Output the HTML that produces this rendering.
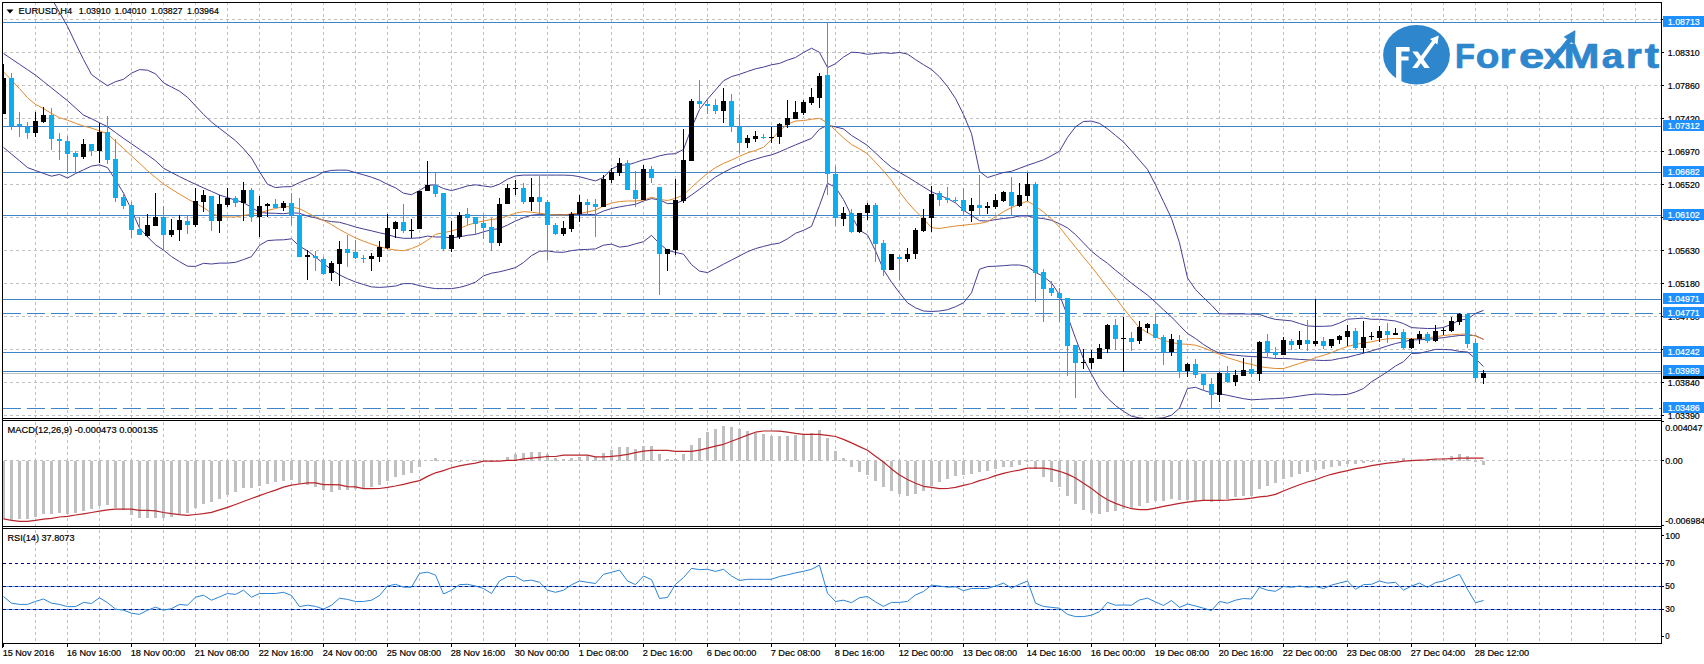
<!DOCTYPE html><html><head><meta charset="utf-8"><title>EURUSD H4</title>
<style>html,body{margin:0;padding:0;background:#fff;overflow:hidden}svg{display:block}text{font-family:"Liberation Sans",sans-serif;font-size:9.2px;fill:#000;stroke:#000;stroke-width:0.2px}</style></head><body>
<svg width="1704" height="664" viewBox="0 0 1704 664">
<rect width="1704" height="664" fill="#fff"/>
<g stroke="#c0c0c0" stroke-width="1" stroke-dasharray="3 3" shape-rendering="crispEdges" fill="none">
<path d="M35.5 2V418M35.5 422V526M35.5 530V643"/>
<path d="M67.5 2V418M67.5 422V526M67.5 530V643"/>
<path d="M99.5 2V418M99.5 422V526M99.5 530V643"/>
<path d="M131.5 2V418M131.5 422V526M131.5 530V643"/>
<path d="M163.5 2V418M163.5 422V526M163.5 530V643"/>
<path d="M195.5 2V418M195.5 422V526M195.5 530V643"/>
<path d="M227.5 2V418M227.5 422V526M227.5 530V643"/>
<path d="M259.5 2V418M259.5 422V526M259.5 530V643"/>
<path d="M291.5 2V418M291.5 422V526M291.5 530V643"/>
<path d="M323.5 2V418M323.5 422V526M323.5 530V643"/>
<path d="M355.5 2V418M355.5 422V526M355.5 530V643"/>
<path d="M387.5 2V418M387.5 422V526M387.5 530V643"/>
<path d="M419.5 2V418M419.5 422V526M419.5 530V643"/>
<path d="M451.5 2V418M451.5 422V526M451.5 530V643"/>
<path d="M483.5 2V418M483.5 422V526M483.5 530V643"/>
<path d="M515.5 2V418M515.5 422V526M515.5 530V643"/>
<path d="M547.5 2V418M547.5 422V526M547.5 530V643"/>
<path d="M579.5 2V418M579.5 422V526M579.5 530V643"/>
<path d="M611.5 2V418M611.5 422V526M611.5 530V643"/>
<path d="M643.5 2V418M643.5 422V526M643.5 530V643"/>
<path d="M675.5 2V418M675.5 422V526M675.5 530V643"/>
<path d="M707.5 2V418M707.5 422V526M707.5 530V643"/>
<path d="M739.5 2V418M739.5 422V526M739.5 530V643"/>
<path d="M771.5 2V418M771.5 422V526M771.5 530V643"/>
<path d="M803.5 2V418M803.5 422V526M803.5 530V643"/>
<path d="M835.5 2V418M835.5 422V526M835.5 530V643"/>
<path d="M867.5 2V418M867.5 422V526M867.5 530V643"/>
<path d="M899.5 2V418M899.5 422V526M899.5 530V643"/>
<path d="M931.5 2V418M931.5 422V526M931.5 530V643"/>
<path d="M963.5 2V418M963.5 422V526M963.5 530V643"/>
<path d="M995.5 2V418M995.5 422V526M995.5 530V643"/>
<path d="M1027.5 2V418M1027.5 422V526M1027.5 530V643"/>
<path d="M1059.5 2V418M1059.5 422V526M1059.5 530V643"/>
<path d="M1091.5 2V418M1091.5 422V526M1091.5 530V643"/>
<path d="M1123.5 2V418M1123.5 422V526M1123.5 530V643"/>
<path d="M1155.5 2V418M1155.5 422V526M1155.5 530V643"/>
<path d="M1187.5 2V418M1187.5 422V526M1187.5 530V643"/>
<path d="M1219.5 2V418M1219.5 422V526M1219.5 530V643"/>
<path d="M1251.5 2V418M1251.5 422V526M1251.5 530V643"/>
<path d="M1283.5 2V418M1283.5 422V526M1283.5 530V643"/>
<path d="M1315.5 2V418M1315.5 422V526M1315.5 530V643"/>
<path d="M1347.5 2V418M1347.5 422V526M1347.5 530V643"/>
<path d="M1379.5 2V418M1379.5 422V526M1379.5 530V643"/>
<path d="M1411.5 2V418M1411.5 422V526M1411.5 530V643"/>
<path d="M1443.5 2V418M1443.5 422V526M1443.5 530V643"/>
<path d="M1475.5 2V418M1475.5 422V526M1475.5 530V643"/>
<path d="M1507.5 2V418M1507.5 422V526M1507.5 530V643"/>
<path d="M1539.5 2V418M1539.5 422V526M1539.5 530V643"/>
<path d="M1571.5 2V418M1571.5 422V526M1571.5 530V643"/>
<path d="M1603.5 2V418M1603.5 422V526M1603.5 530V643"/>
<path d="M1635.5 2V418M1635.5 422V526M1635.5 530V643"/>
<path d="M4 19.5H1661"/>
<path d="M4 52.5H1661"/>
<path d="M4 85.5H1661"/>
<path d="M4 118.5H1661"/>
<path d="M4 151.5H1661"/>
<path d="M4 184.5H1661"/>
<path d="M4 217.5H1661"/>
<path d="M4 250.5H1661"/>
<path d="M4 283.5H1661"/>
<path d="M4 316.5H1661"/>
<path d="M4 349.5H1661"/>
<path d="M4 382.5H1661"/>
<path d="M4 415.5H1661"/>
<path d="M4 460.5H1661"/>
</g>
<rect x="1380" y="23" width="281" height="62" fill="#fff"/>
<g stroke="#3d85c8" stroke-width="1" fill="none" shape-rendering="crispEdges">
<path d="M3 22.5H1661"/>
<path d="M3 126.5H1661"/>
<path d="M3 172.5H1661"/>
<path d="M3 215.5H1661"/>
<path d="M3 299.5H1661"/>
<path d="M3 313.5H1661" stroke-dasharray="18 6" stroke-dashoffset="0"/>
<path d="M3 352.5H1661"/>
<path d="M3 371.5H1661"/>
<path d="M3 408.5H1661" stroke-dasharray="18 6" stroke-dashoffset="0"/>
</g>
<path d="M3 373.5H1661" stroke="#c0c0c0" stroke-width="1" shape-rendering="crispEdges"/>
<clipPath id="cm"><rect x="3" y="3" width="1658" height="415"/></clipPath>
<g clip-path="url(#cm)">
<path d="M51.5 -2.0L59.5 12.3L67.5 26.4L75.5 43.2L83.5 59.5L91.5 74.5L99.5 80.4L107.5 85.7L115.5 81.7L123.5 79.3L131.5 73.1L139.5 69.6L147.5 70.2L155.5 73.8L163.5 82.8L171.5 87.0L179.5 91.2L187.5 97.3L195.5 105.9L203.5 114.4L211.5 122.0L219.5 128.3L227.5 134.4L235.5 140.7L243.5 148.7L251.5 158.0L259.5 171.7L267.5 184.3L275.5 187.6L283.5 186.8L291.5 186.6L299.5 182.5L307.5 179.2L315.5 176.6L323.5 172.0L331.5 170.4L339.5 170.1L347.5 170.2L355.5 172.6L363.5 174.8L371.5 177.2L379.5 180.2L387.5 184.4L395.5 187.8L403.5 193.2L411.5 194.7L419.5 190.5L427.5 185.4L435.5 184.8L443.5 188.5L451.5 190.6L459.5 188.4L467.5 185.9L475.5 184.8L483.5 186.0L491.5 187.0L499.5 184.1L507.5 179.2L515.5 175.9L523.5 175.1L531.5 175.1L539.5 175.1L547.5 175.1L555.5 175.1L563.5 175.1L571.5 175.4L579.5 176.7L587.5 178.9L595.5 180.9L603.5 177.4L611.5 169.1L619.5 165.1L627.5 165.0L635.5 162.5L643.5 159.7L651.5 158.3L659.5 155.8L667.5 154.2L675.5 153.7L683.5 149.4L691.5 128.0L699.5 109.5L707.5 99.2L715.5 90.0L723.5 80.8L731.5 76.6L739.5 74.3L747.5 71.5L755.5 68.8L763.5 67.1L771.5 64.8L779.5 63.4L787.5 60.1L795.5 57.5L803.5 52.5L811.5 48.2L819.5 52.4L827.5 67.6L835.5 63.7L843.5 57.1L851.5 52.2L859.5 52.7L867.5 54.3L875.5 53.5L883.5 52.7L891.5 53.4L899.5 52.4L907.5 54.1L915.5 59.6L923.5 64.7L931.5 69.5L939.5 76.8L947.5 86.5L955.5 98.5L963.5 114.5L971.5 133.6L979.5 171.4L987.5 177.5L995.5 175.0L1003.5 172.5L1011.5 171.3L1019.5 168.3L1027.5 165.3L1035.5 162.6L1043.5 159.8L1051.5 155.7L1059.5 151.2L1067.5 137.4L1075.5 126.8L1083.5 121.5L1091.5 121.1L1099.5 123.4L1107.5 128.8L1115.5 135.4L1123.5 142.0L1131.5 150.9L1139.5 160.2L1147.5 169.4L1155.5 184.8L1163.5 201.6L1171.5 218.4L1179.5 242.8L1187.5 277.9L1195.5 289.6L1203.5 297.6L1211.5 305.2L1219.5 313.7L1227.5 313.9L1235.5 313.9L1243.5 313.9L1251.5 314.1L1259.5 314.4L1267.5 317.3L1275.5 319.4L1283.5 320.1L1291.5 320.9L1299.5 323.5L1307.5 325.9L1315.5 326.4L1323.5 326.3L1331.5 325.9L1339.5 323.0L1347.5 319.2L1355.5 318.7L1363.5 318.1L1371.5 319.3L1379.5 319.3L1387.5 320.1L1395.5 321.0L1403.5 323.6L1411.5 327.6L1419.5 328.1L1427.5 328.5L1435.5 328.4L1443.5 327.5L1451.5 324.2L1459.5 320.1L1467.5 319.1L1475.5 313.4L1483.5 310.4" stroke="#433e92" stroke-width="1" fill="none" stroke-linejoin="round" />
<path d="M3.5 53.5L11.5 58.9L19.5 64.3L27.5 69.7L35.5 75.1L43.5 81.5L51.5 87.9L59.5 94.3L67.5 100.7L75.5 107.9L83.5 115.1L91.5 118.7L99.5 122.8L107.5 126.7L115.5 132.5L123.5 138.3L131.5 143.8L139.5 149.3L147.5 154.9L155.5 160.7L163.5 168.2L171.5 172.5L179.5 176.6L187.5 180.5L195.5 184.3L203.5 187.9L211.5 191.4L219.5 195.0L227.5 197.6L235.5 200.1L243.5 202.6L251.5 207.4L259.5 212.4L267.5 213.1L275.5 213.3L283.5 213.7L291.5 212.7L299.5 213.3L307.5 216.1L315.5 217.8L323.5 220.3L331.5 221.6L339.5 222.3L347.5 224.5L355.5 227.0L363.5 229.0L371.5 230.8L379.5 232.8L387.5 234.5L395.5 237.0L403.5 238.3L411.5 238.3L419.5 237.8L427.5 236.1L435.5 237.0L443.5 237.0L451.5 237.8L459.5 236.9L467.5 235.3L475.5 234.4L483.5 231.8L491.5 229.7L499.5 228.5L507.5 225.1L515.5 221.0L523.5 217.7L531.5 215.2L539.5 214.4L547.5 214.4L555.5 214.6L563.5 214.7L571.5 214.6L579.5 214.4L587.5 214.4L595.5 214.7L603.5 211.0L611.5 208.5L619.5 206.9L627.5 205.5L635.5 204.3L643.5 201.0L651.5 198.6L659.5 199.9L667.5 203.6L675.5 203.4L683.5 200.4L691.5 195.0L699.5 189.2L707.5 183.0L715.5 177.0L723.5 172.5L731.5 168.3L739.5 165.0L747.5 161.7L755.5 159.2L763.5 156.7L771.5 154.9L779.5 151.9L787.5 148.3L795.5 144.9L803.5 141.6L811.5 138.4L819.5 129.2L827.5 125.2L835.5 126.9L843.5 128.9L851.5 135.4L859.5 140.4L867.5 145.5L875.5 153.0L883.5 160.5L891.5 167.3L899.5 172.4L907.5 176.9L915.5 181.9L923.5 186.9L931.5 191.8L939.5 195.2L947.5 198.6L955.5 202.9L963.5 210.3L971.5 215.3L979.5 220.7L987.5 221.0L995.5 219.6L1003.5 218.5L1011.5 217.6L1019.5 216.0L1027.5 216.0L1035.5 217.7L1043.5 218.6L1051.5 220.3L1059.5 223.7L1067.5 227.9L1075.5 234.6L1083.5 242.9L1091.5 251.2L1099.5 257.6L1107.5 263.3L1115.5 270.2L1123.5 276.6L1131.5 283.2L1139.5 289.2L1147.5 295.1L1155.5 302.2L1163.5 309.8L1171.5 316.9L1179.5 325.3L1187.5 333.5L1195.5 338.5L1203.5 344.5L1211.5 349.4L1219.5 353.2L1227.5 354.3L1235.5 355.2L1243.5 356.0L1251.5 356.5L1259.5 356.9L1267.5 357.7L1275.5 358.5L1283.5 358.5L1291.5 358.8L1299.5 359.4L1307.5 359.8L1315.5 360.2L1323.5 360.5L1331.5 360.2L1339.5 358.5L1347.5 357.3L1355.5 355.2L1363.5 353.2L1371.5 350.9L1379.5 348.5L1387.5 345.9L1395.5 343.5L1403.5 341.8L1411.5 339.8L1419.5 339.8L1427.5 339.3L1435.5 338.5L1443.5 337.6L1451.5 336.5L1459.5 335.5L1467.5 335.2L1475.5 335.6L1483.5 339.3" stroke="#433e92" stroke-width="1" fill="none" stroke-linejoin="round" />
<path d="M3.5 147.4L11.5 154.1L19.5 160.7L27.5 167.6L35.5 170.5L43.5 173.4L51.5 176.2L59.5 174.4L67.5 178.0L75.5 173.6L83.5 169.8L91.5 166.1L99.5 164.8L107.5 167.6L115.5 179.9L123.5 193.2L131.5 209.7L139.5 228.0L147.5 236.8L155.5 244.8L163.5 250.0L171.5 256.6L179.5 261.6L187.5 266.2L195.5 266.4L203.5 263.3L211.5 264.0L219.5 263.1L227.5 263.1L235.5 262.3L243.5 259.6L251.5 256.6L259.5 245.4L267.5 240.6L275.5 240.0L283.5 239.8L291.5 238.8L299.5 246.2L307.5 250.8L315.5 257.1L323.5 263.6L331.5 269.6L339.5 274.9L347.5 278.7L355.5 282.0L363.5 284.5L371.5 286.9L379.5 287.4L387.5 286.9L395.5 286.0L403.5 283.6L411.5 283.6L419.5 285.6L427.5 287.4L435.5 288.6L443.5 288.6L451.5 288.6L459.5 287.4L467.5 285.2L475.5 282.1L483.5 275.9L491.5 273.2L499.5 271.8L507.5 269.8L515.5 267.6L523.5 262.5L531.5 255.6L539.5 251.3L547.5 250.9L555.5 252.1L563.5 252.3L571.5 250.6L579.5 249.7L587.5 249.4L595.5 248.9L603.5 245.2L611.5 244.1L619.5 247.1L627.5 246.2L635.5 243.8L643.5 241.7L651.5 235.4L659.5 243.5L667.5 250.3L675.5 252.4L683.5 254.2L691.5 264.6L699.5 271.1L707.5 272.6L715.5 268.5L723.5 264.2L731.5 260.1L739.5 255.9L747.5 251.7L755.5 248.6L763.5 246.4L771.5 244.4L779.5 243.1L787.5 238.8L795.5 233.3L803.5 230.3L811.5 226.4L819.5 205.5L827.5 183.3L835.5 187.2L843.5 199.6L851.5 215.7L859.5 230.3L867.5 234.9L875.5 250.8L883.5 269.7L891.5 282.2L899.5 292.8L907.5 302.8L915.5 307.8L923.5 311.0L931.5 311.5L939.5 311.0L947.5 309.7L955.5 306.7L963.5 302.8L971.5 292.8L979.5 269.2L987.5 266.6L995.5 266.2L1003.5 265.7L1011.5 265.0L1019.5 265.0L1027.5 266.6L1035.5 272.4L1043.5 276.5L1051.5 282.9L1059.5 294.8L1067.5 315.9L1075.5 338.2L1083.5 358.9L1091.5 374.1L1099.5 388.8L1107.5 398.1L1115.5 405.5L1123.5 411.3L1131.5 416.2L1139.5 417.9L1147.5 418.7L1155.5 418.4L1163.5 417.8L1171.5 415.2L1179.5 408.1L1187.5 388.5L1195.5 387.3L1203.5 390.4L1211.5 392.8L1219.5 393.7L1227.5 395.3L1235.5 397.0L1243.5 398.7L1251.5 399.8L1259.5 399.4L1267.5 398.9L1275.5 398.6L1283.5 398.1L1291.5 397.3L1299.5 396.1L1307.5 394.9L1315.5 394.1L1323.5 394.2L1331.5 394.8L1339.5 394.7L1347.5 394.4L1355.5 391.9L1363.5 388.5L1371.5 381.8L1379.5 376.9L1387.5 371.7L1395.5 366.0L1403.5 361.7L1411.5 353.5L1419.5 353.2L1427.5 351.4L1435.5 349.4L1443.5 349.4L1451.5 349.9L1459.5 351.4L1467.5 352.0L1475.5 358.7L1483.5 366.6" stroke="#433e92" stroke-width="1" fill="none" stroke-linejoin="round" />
<path d="M3.5 71.9L11.5 80.2L19.5 88.6L27.5 97.7L35.5 104.4L43.5 108.5L51.5 113.5L59.5 117.7L67.5 120.2L75.5 123.3L83.5 126.0L91.5 128.1L99.5 130.9L107.5 133.8L115.5 141.2L123.5 148.5L131.5 155.8L139.5 163.2L147.5 170.7L155.5 177.4L163.5 184.1L171.5 189.1L179.5 194.1L187.5 198.8L195.5 203.3L203.5 207.5L211.5 213.2L219.5 216.8L227.5 217.0L235.5 217.0L243.5 215.4L251.5 214.2L259.5 212.9L267.5 210.5L275.5 208.5L283.5 206.4L291.5 206.9L299.5 208.7L307.5 212.8L315.5 217.0L323.5 220.3L331.5 224.6L339.5 229.5L347.5 233.8L355.5 237.9L363.5 241.2L371.5 244.1L379.5 246.7L387.5 248.7L395.5 250.0L403.5 250.8L411.5 248.6L419.5 245.2L427.5 240.2L435.5 234.4L443.5 232.7L451.5 231.0L459.5 228.5L467.5 225.2L475.5 222.7L483.5 221.0L491.5 219.4L499.5 218.5L507.5 216.0L515.5 213.2L523.5 211.6L531.5 212.2L539.5 213.2L547.5 214.4L555.5 214.8L563.5 215.1L571.5 213.6L579.5 213.5L587.5 211.9L595.5 210.1L603.5 206.0L611.5 203.1L619.5 201.5L627.5 201.0L635.5 201.0L643.5 200.1L651.5 197.2L659.5 199.4L667.5 200.5L675.5 198.4L683.5 194.9L691.5 187.4L699.5 180.1L707.5 173.4L715.5 167.6L723.5 163.4L731.5 160.1L739.5 156.3L747.5 152.8L755.5 150.4L763.5 147.3L771.5 139.5L779.5 130.8L787.5 124.2L795.5 121.0L803.5 120.5L811.5 119.3L819.5 118.3L827.5 122.9L835.5 130.4L843.5 137.9L851.5 144.6L859.5 148.8L867.5 153.9L875.5 162.3L883.5 171.0L891.5 180.5L899.5 191.9L907.5 202.1L915.5 211.2L923.5 218.8L931.5 227.7L939.5 228.5L947.5 227.2L955.5 226.0L963.5 225.2L971.5 224.3L979.5 223.5L987.5 221.7L995.5 216.7L1003.5 211.7L1011.5 207.5L1019.5 204.2L1027.5 201.1L1035.5 206.1L1043.5 212.1L1051.5 218.8L1059.5 227.2L1067.5 237.2L1075.5 247.2L1083.5 257.2L1091.5 266.6L1099.5 277.0L1107.5 287.4L1115.5 297.7L1123.5 308.3L1131.5 318.3L1139.5 327.7L1147.5 332.7L1155.5 336.9L1163.5 340.2L1171.5 342.6L1179.5 343.9L1187.5 344.3L1195.5 345.2L1203.5 347.8L1211.5 351.1L1219.5 354.4L1227.5 357.7L1235.5 360.2L1243.5 362.7L1251.5 364.4L1259.5 366.6L1267.5 367.7L1275.5 368.5L1283.5 368.5L1291.5 366.0L1299.5 363.4L1307.5 360.9L1315.5 357.6L1323.5 355.3L1331.5 352.6L1339.5 349.3L1347.5 346.5L1355.5 344.3L1363.5 343.1L1371.5 341.8L1379.5 340.1L1387.5 338.8L1395.5 338.5L1403.5 338.5L1411.5 338.8L1419.5 338.5L1427.5 337.6L1435.5 336.8L1443.5 335.5L1451.5 334.8L1459.5 334.3L1467.5 333.9L1475.5 336.1L1483.5 339.3" stroke="#e08a30" stroke-width="1" fill="none" stroke-linejoin="round" />
<g shape-rendering="crispEdges">
<rect x="3" y="64" width="1" height="50" fill="#000"/>
<rect x="1" y="78" width="5" height="36" fill="#000"/>
<rect x="11" y="73" width="1" height="57" fill="#0caef0"/>
<rect x="9" y="78" width="5" height="48" fill="#0caef0"/>
<rect x="19" y="112" width="1" height="25" fill="#0caef0"/>
<rect x="17" y="124" width="5" height="2" fill="#0caef0"/>
<rect x="27" y="122" width="1" height="17" fill="#0caef0"/>
<rect x="25" y="127" width="5" height="6" fill="#0caef0"/>
<rect x="35" y="112" width="1" height="25" fill="#000"/>
<rect x="33" y="121" width="5" height="12" fill="#000"/>
<rect x="43" y="107" width="1" height="16" fill="#000"/>
<rect x="41" y="115" width="5" height="7" fill="#000"/>
<rect x="51" y="108" width="1" height="42" fill="#0caef0"/>
<rect x="49" y="115" width="5" height="24" fill="#0caef0"/>
<rect x="59" y="133" width="1" height="27" fill="#0caef0"/>
<rect x="57" y="139" width="5" height="2" fill="#0caef0"/>
<rect x="67" y="136" width="1" height="38" fill="#0caef0"/>
<rect x="65" y="141" width="5" height="13" fill="#0caef0"/>
<rect x="75" y="151" width="1" height="23" fill="#0caef0"/>
<rect x="73" y="153" width="5" height="4" fill="#0caef0"/>
<rect x="83" y="139" width="1" height="20" fill="#000"/>
<rect x="81" y="144" width="5" height="13" fill="#000"/>
<rect x="91" y="144" width="1" height="12" fill="#0caef0"/>
<rect x="89" y="144" width="5" height="7" fill="#0caef0"/>
<rect x="99" y="123" width="1" height="40" fill="#000"/>
<rect x="97" y="132" width="5" height="19" fill="#000"/>
<rect x="107" y="116" width="1" height="48" fill="#0caef0"/>
<rect x="105" y="132" width="5" height="28" fill="#0caef0"/>
<rect x="115" y="139" width="1" height="63" fill="#0caef0"/>
<rect x="113" y="159" width="5" height="39" fill="#0caef0"/>
<rect x="123" y="192" width="1" height="17" fill="#0caef0"/>
<rect x="121" y="197" width="5" height="9" fill="#0caef0"/>
<rect x="131" y="202" width="1" height="36" fill="#0caef0"/>
<rect x="129" y="205" width="5" height="25" fill="#0caef0"/>
<rect x="139" y="217" width="1" height="18" fill="#0caef0"/>
<rect x="137" y="229" width="5" height="6" fill="#0caef0"/>
<rect x="147" y="214" width="1" height="23" fill="#000"/>
<rect x="145" y="225" width="5" height="11" fill="#000"/>
<rect x="155" y="193" width="1" height="33" fill="#000"/>
<rect x="153" y="217" width="5" height="9" fill="#000"/>
<rect x="163" y="206" width="1" height="43" fill="#0caef0"/>
<rect x="161" y="217" width="5" height="18" fill="#0caef0"/>
<rect x="171" y="219" width="1" height="18" fill="#000"/>
<rect x="169" y="230" width="5" height="5" fill="#000"/>
<rect x="179" y="215" width="1" height="26" fill="#000"/>
<rect x="177" y="220" width="5" height="10" fill="#000"/>
<rect x="187" y="215" width="1" height="19" fill="#0caef0"/>
<rect x="185" y="221" width="5" height="4" fill="#0caef0"/>
<rect x="195" y="188" width="1" height="39" fill="#000"/>
<rect x="193" y="201" width="5" height="24" fill="#000"/>
<rect x="203" y="190" width="1" height="22" fill="#000"/>
<rect x="201" y="195" width="5" height="7" fill="#000"/>
<rect x="211" y="196" width="1" height="35" fill="#0caef0"/>
<rect x="209" y="196" width="5" height="25" fill="#0caef0"/>
<rect x="219" y="195" width="1" height="38" fill="#000"/>
<rect x="217" y="204" width="5" height="17" fill="#000"/>
<rect x="227" y="188" width="1" height="19" fill="#000"/>
<rect x="225" y="198" width="5" height="7" fill="#000"/>
<rect x="235" y="196" width="1" height="11" fill="#0caef0"/>
<rect x="233" y="198" width="5" height="5" fill="#0caef0"/>
<rect x="243" y="182" width="1" height="39" fill="#000"/>
<rect x="241" y="190" width="5" height="13" fill="#000"/>
<rect x="251" y="188" width="1" height="34" fill="#0caef0"/>
<rect x="249" y="190" width="5" height="27" fill="#0caef0"/>
<rect x="259" y="196" width="1" height="41" fill="#000"/>
<rect x="257" y="206" width="5" height="11" fill="#000"/>
<rect x="267" y="203" width="1" height="14" fill="#000"/>
<rect x="265" y="204" width="5" height="2" fill="#000"/>
<rect x="275" y="199" width="1" height="9" fill="#0caef0"/>
<rect x="273" y="204" width="5" height="4" fill="#0caef0"/>
<rect x="283" y="201" width="1" height="10" fill="#000"/>
<rect x="281" y="203" width="5" height="5" fill="#000"/>
<rect x="291" y="193" width="1" height="32" fill="#0caef0"/>
<rect x="289" y="203" width="5" height="12" fill="#0caef0"/>
<rect x="299" y="198" width="1" height="59" fill="#0caef0"/>
<rect x="297" y="215" width="5" height="42" fill="#0caef0"/>
<rect x="307" y="250" width="1" height="30" fill="#000"/>
<rect x="305" y="255" width="5" height="2" fill="#000"/>
<rect x="315" y="251" width="1" height="20" fill="#0caef0"/>
<rect x="313" y="256" width="5" height="2" fill="#0caef0"/>
<rect x="323" y="257" width="1" height="18" fill="#0caef0"/>
<rect x="321" y="259" width="5" height="15" fill="#0caef0"/>
<rect x="331" y="261" width="1" height="20" fill="#000"/>
<rect x="329" y="263" width="5" height="10" fill="#000"/>
<rect x="339" y="241" width="1" height="45" fill="#000"/>
<rect x="337" y="249" width="5" height="15" fill="#000"/>
<rect x="347" y="235" width="1" height="32" fill="#0caef0"/>
<rect x="345" y="249" width="5" height="4" fill="#0caef0"/>
<rect x="355" y="240" width="1" height="19" fill="#0caef0"/>
<rect x="353" y="252" width="5" height="6" fill="#0caef0"/>
<rect x="363" y="255" width="1" height="8" fill="#0caef0"/>
<rect x="361" y="258" width="5" height="1" fill="#0caef0"/>
<rect x="371" y="253" width="1" height="18" fill="#000"/>
<rect x="369" y="256" width="5" height="3" fill="#000"/>
<rect x="379" y="241" width="1" height="21" fill="#000"/>
<rect x="377" y="247" width="5" height="10" fill="#000"/>
<rect x="387" y="214" width="1" height="35" fill="#000"/>
<rect x="385" y="228" width="5" height="20" fill="#000"/>
<rect x="395" y="221" width="1" height="17" fill="#000"/>
<rect x="393" y="222" width="5" height="7" fill="#000"/>
<rect x="403" y="204" width="1" height="29" fill="#0caef0"/>
<rect x="401" y="222" width="5" height="9" fill="#0caef0"/>
<rect x="411" y="219" width="1" height="19" fill="#000"/>
<rect x="409" y="230" width="5" height="1" fill="#000"/>
<rect x="419" y="191" width="1" height="38" fill="#000"/>
<rect x="417" y="191" width="5" height="38" fill="#000"/>
<rect x="427" y="161" width="1" height="30" fill="#000"/>
<rect x="425" y="185" width="5" height="6" fill="#000"/>
<rect x="435" y="173" width="1" height="24" fill="#0caef0"/>
<rect x="433" y="185" width="5" height="9" fill="#0caef0"/>
<rect x="443" y="193" width="1" height="58" fill="#0caef0"/>
<rect x="441" y="193" width="5" height="56" fill="#0caef0"/>
<rect x="451" y="221" width="1" height="31" fill="#000"/>
<rect x="449" y="235" width="5" height="14" fill="#000"/>
<rect x="459" y="212" width="1" height="27" fill="#000"/>
<rect x="457" y="215" width="5" height="22" fill="#000"/>
<rect x="467" y="208" width="1" height="17" fill="#0caef0"/>
<rect x="465" y="214" width="5" height="4" fill="#0caef0"/>
<rect x="475" y="217" width="1" height="17" fill="#0caef0"/>
<rect x="473" y="217" width="5" height="7" fill="#0caef0"/>
<rect x="483" y="214" width="1" height="25" fill="#0caef0"/>
<rect x="481" y="223" width="5" height="5" fill="#0caef0"/>
<rect x="491" y="218" width="1" height="33" fill="#0caef0"/>
<rect x="489" y="227" width="5" height="16" fill="#0caef0"/>
<rect x="499" y="198" width="1" height="48" fill="#000"/>
<rect x="497" y="204" width="5" height="39" fill="#000"/>
<rect x="507" y="184" width="1" height="20" fill="#000"/>
<rect x="505" y="188" width="5" height="16" fill="#000"/>
<rect x="515" y="180" width="1" height="15" fill="#000"/>
<rect x="513" y="188" width="5" height="1" fill="#000"/>
<rect x="523" y="183" width="1" height="21" fill="#0caef0"/>
<rect x="521" y="188" width="5" height="14" fill="#0caef0"/>
<rect x="531" y="178" width="1" height="33" fill="#000"/>
<rect x="529" y="197" width="5" height="5" fill="#000"/>
<rect x="539" y="176" width="1" height="38" fill="#0caef0"/>
<rect x="537" y="197" width="5" height="5" fill="#0caef0"/>
<rect x="547" y="200" width="1" height="60" fill="#0caef0"/>
<rect x="545" y="202" width="5" height="23" fill="#0caef0"/>
<rect x="555" y="223" width="1" height="12" fill="#0caef0"/>
<rect x="553" y="225" width="5" height="9" fill="#0caef0"/>
<rect x="563" y="221" width="1" height="15" fill="#000"/>
<rect x="561" y="228" width="5" height="6" fill="#000"/>
<rect x="571" y="212" width="1" height="20" fill="#000"/>
<rect x="569" y="214" width="5" height="15" fill="#000"/>
<rect x="579" y="195" width="1" height="27" fill="#000"/>
<rect x="577" y="202" width="5" height="12" fill="#000"/>
<rect x="587" y="199" width="1" height="15" fill="#0caef0"/>
<rect x="585" y="202" width="5" height="3" fill="#0caef0"/>
<rect x="595" y="199" width="1" height="38" fill="#0caef0"/>
<rect x="593" y="204" width="5" height="3" fill="#0caef0"/>
<rect x="603" y="175" width="1" height="32" fill="#000"/>
<rect x="601" y="179" width="5" height="28" fill="#000"/>
<rect x="611" y="168" width="1" height="15" fill="#000"/>
<rect x="609" y="172" width="5" height="8" fill="#000"/>
<rect x="619" y="158" width="1" height="18" fill="#000"/>
<rect x="617" y="163" width="5" height="10" fill="#000"/>
<rect x="627" y="160" width="1" height="30" fill="#0caef0"/>
<rect x="625" y="163" width="5" height="27" fill="#0caef0"/>
<rect x="635" y="171" width="1" height="36" fill="#0caef0"/>
<rect x="633" y="190" width="5" height="9" fill="#0caef0"/>
<rect x="643" y="165" width="1" height="35" fill="#000"/>
<rect x="641" y="169" width="5" height="31" fill="#000"/>
<rect x="651" y="166" width="1" height="17" fill="#0caef0"/>
<rect x="649" y="169" width="5" height="9" fill="#0caef0"/>
<rect x="659" y="187" width="1" height="108" fill="#0caef0"/>
<rect x="657" y="187" width="5" height="67" fill="#0caef0"/>
<rect x="667" y="249" width="1" height="22" fill="#000"/>
<rect x="665" y="249" width="5" height="5" fill="#000"/>
<rect x="675" y="179" width="1" height="76" fill="#000"/>
<rect x="673" y="200" width="5" height="50" fill="#000"/>
<rect x="683" y="129" width="1" height="74" fill="#000"/>
<rect x="681" y="160" width="5" height="41" fill="#000"/>
<rect x="691" y="99" width="1" height="62" fill="#000"/>
<rect x="689" y="101" width="5" height="60" fill="#000"/>
<rect x="699" y="80" width="1" height="28" fill="#0caef0"/>
<rect x="697" y="101" width="5" height="3" fill="#0caef0"/>
<rect x="707" y="100" width="1" height="14" fill="#0caef0"/>
<rect x="705" y="104" width="5" height="2" fill="#0caef0"/>
<rect x="715" y="99" width="1" height="15" fill="#0caef0"/>
<rect x="713" y="105" width="5" height="6" fill="#0caef0"/>
<rect x="723" y="88" width="1" height="35" fill="#000"/>
<rect x="721" y="101" width="5" height="10" fill="#000"/>
<rect x="731" y="94" width="1" height="38" fill="#0caef0"/>
<rect x="729" y="101" width="5" height="26" fill="#0caef0"/>
<rect x="739" y="114" width="1" height="39" fill="#0caef0"/>
<rect x="737" y="127" width="5" height="16" fill="#0caef0"/>
<rect x="747" y="135" width="1" height="13" fill="#000"/>
<rect x="745" y="138" width="5" height="5" fill="#000"/>
<rect x="755" y="131" width="1" height="11" fill="#000"/>
<rect x="753" y="136" width="5" height="3" fill="#000"/>
<rect x="763" y="134" width="1" height="5" fill="#0caef0"/>
<rect x="761" y="137" width="5" height="1" fill="#0caef0"/>
<rect x="771" y="127" width="1" height="16" fill="#000"/>
<rect x="769" y="137" width="5" height="1" fill="#000"/>
<rect x="779" y="123" width="1" height="21" fill="#000"/>
<rect x="777" y="124" width="5" height="13" fill="#000"/>
<rect x="787" y="100" width="1" height="28" fill="#000"/>
<rect x="785" y="118" width="5" height="7" fill="#000"/>
<rect x="795" y="101" width="1" height="18" fill="#000"/>
<rect x="793" y="112" width="5" height="7" fill="#000"/>
<rect x="803" y="100" width="1" height="15" fill="#000"/>
<rect x="801" y="102" width="5" height="11" fill="#000"/>
<rect x="811" y="88" width="1" height="17" fill="#000"/>
<rect x="809" y="97" width="5" height="6" fill="#000"/>
<rect x="819" y="73" width="1" height="35" fill="#000"/>
<rect x="817" y="76" width="5" height="22" fill="#000"/>
<rect x="827" y="22" width="1" height="173" fill="#0caef0"/>
<rect x="825" y="75" width="5" height="99" fill="#0caef0"/>
<rect x="835" y="166" width="1" height="60" fill="#0caef0"/>
<rect x="833" y="174" width="5" height="44" fill="#0caef0"/>
<rect x="843" y="207" width="1" height="19" fill="#000"/>
<rect x="841" y="213" width="5" height="6" fill="#000"/>
<rect x="851" y="209" width="1" height="24" fill="#0caef0"/>
<rect x="849" y="213" width="5" height="19" fill="#0caef0"/>
<rect x="859" y="213" width="1" height="20" fill="#000"/>
<rect x="857" y="213" width="5" height="19" fill="#000"/>
<rect x="867" y="203" width="1" height="17" fill="#000"/>
<rect x="865" y="205" width="5" height="8" fill="#000"/>
<rect x="875" y="203" width="1" height="59" fill="#0caef0"/>
<rect x="873" y="205" width="5" height="39" fill="#0caef0"/>
<rect x="883" y="240" width="1" height="36" fill="#0caef0"/>
<rect x="881" y="243" width="5" height="27" fill="#0caef0"/>
<rect x="891" y="254" width="1" height="16" fill="#000"/>
<rect x="889" y="254" width="5" height="16" fill="#000"/>
<rect x="899" y="255" width="1" height="25" fill="#0caef0"/>
<rect x="897" y="257" width="5" height="2" fill="#0caef0"/>
<rect x="907" y="248" width="1" height="14" fill="#000"/>
<rect x="905" y="254" width="5" height="5" fill="#000"/>
<rect x="915" y="228" width="1" height="31" fill="#000"/>
<rect x="913" y="230" width="5" height="24" fill="#000"/>
<rect x="923" y="209" width="1" height="23" fill="#000"/>
<rect x="921" y="218" width="5" height="13" fill="#000"/>
<rect x="931" y="186" width="1" height="46" fill="#000"/>
<rect x="929" y="194" width="5" height="24" fill="#000"/>
<rect x="939" y="191" width="1" height="15" fill="#0caef0"/>
<rect x="937" y="193" width="5" height="7" fill="#0caef0"/>
<rect x="947" y="187" width="1" height="16" fill="#0caef0"/>
<rect x="945" y="198" width="5" height="2" fill="#0caef0"/>
<rect x="955" y="197" width="1" height="6" fill="#0caef0"/>
<rect x="953" y="200" width="5" height="1" fill="#0caef0"/>
<rect x="963" y="188" width="1" height="27" fill="#0caef0"/>
<rect x="961" y="200" width="5" height="11" fill="#0caef0"/>
<rect x="971" y="198" width="1" height="24" fill="#000"/>
<rect x="969" y="205" width="5" height="6" fill="#000"/>
<rect x="979" y="175" width="1" height="40" fill="#0caef0"/>
<rect x="977" y="205" width="5" height="3" fill="#0caef0"/>
<rect x="987" y="202" width="1" height="12" fill="#000"/>
<rect x="985" y="206" width="5" height="2" fill="#000"/>
<rect x="995" y="194" width="1" height="15" fill="#000"/>
<rect x="993" y="200" width="5" height="7" fill="#000"/>
<rect x="1003" y="191" width="1" height="11" fill="#000"/>
<rect x="1001" y="192" width="5" height="9" fill="#000"/>
<rect x="1011" y="177" width="1" height="38" fill="#0caef0"/>
<rect x="1009" y="192" width="5" height="14" fill="#0caef0"/>
<rect x="1019" y="183" width="1" height="24" fill="#000"/>
<rect x="1017" y="195" width="5" height="11" fill="#000"/>
<rect x="1027" y="173" width="1" height="28" fill="#000"/>
<rect x="1025" y="184" width="5" height="12" fill="#000"/>
<rect x="1035" y="182" width="1" height="120" fill="#0caef0"/>
<rect x="1033" y="184" width="5" height="89" fill="#0caef0"/>
<rect x="1043" y="269" width="1" height="53" fill="#0caef0"/>
<rect x="1041" y="272" width="5" height="17" fill="#0caef0"/>
<rect x="1051" y="281" width="1" height="15" fill="#0caef0"/>
<rect x="1049" y="288" width="5" height="5" fill="#0caef0"/>
<rect x="1059" y="288" width="1" height="34" fill="#0caef0"/>
<rect x="1057" y="293" width="5" height="5" fill="#0caef0"/>
<rect x="1067" y="298" width="1" height="78" fill="#0caef0"/>
<rect x="1065" y="298" width="5" height="48" fill="#0caef0"/>
<rect x="1075" y="345" width="1" height="53" fill="#0caef0"/>
<rect x="1073" y="345" width="5" height="18" fill="#0caef0"/>
<rect x="1083" y="349" width="1" height="20" fill="#000"/>
<rect x="1081" y="362" width="5" height="1" fill="#000"/>
<rect x="1091" y="350" width="1" height="19" fill="#000"/>
<rect x="1089" y="358" width="5" height="5" fill="#000"/>
<rect x="1099" y="344" width="1" height="15" fill="#000"/>
<rect x="1097" y="348" width="5" height="11" fill="#000"/>
<rect x="1107" y="324" width="1" height="29" fill="#000"/>
<rect x="1105" y="325" width="5" height="24" fill="#000"/>
<rect x="1115" y="319" width="1" height="31" fill="#0caef0"/>
<rect x="1113" y="325" width="5" height="14" fill="#0caef0"/>
<rect x="1123" y="317" width="1" height="55" fill="#000"/>
<rect x="1121" y="338" width="5" height="1" fill="#000"/>
<rect x="1131" y="332" width="1" height="19" fill="#0caef0"/>
<rect x="1129" y="338" width="5" height="4" fill="#0caef0"/>
<rect x="1139" y="321" width="1" height="23" fill="#000"/>
<rect x="1137" y="327" width="5" height="14" fill="#000"/>
<rect x="1147" y="323" width="1" height="10" fill="#000"/>
<rect x="1145" y="324" width="5" height="4" fill="#000"/>
<rect x="1155" y="313" width="1" height="25" fill="#0caef0"/>
<rect x="1153" y="324" width="5" height="14" fill="#0caef0"/>
<rect x="1163" y="335" width="1" height="30" fill="#0caef0"/>
<rect x="1161" y="337" width="5" height="15" fill="#0caef0"/>
<rect x="1171" y="334" width="1" height="22" fill="#000"/>
<rect x="1169" y="339" width="5" height="13" fill="#000"/>
<rect x="1179" y="335" width="1" height="43" fill="#0caef0"/>
<rect x="1177" y="340" width="5" height="32" fill="#0caef0"/>
<rect x="1187" y="363" width="1" height="14" fill="#000"/>
<rect x="1185" y="364" width="5" height="7" fill="#000"/>
<rect x="1195" y="359" width="1" height="19" fill="#0caef0"/>
<rect x="1193" y="364" width="5" height="11" fill="#0caef0"/>
<rect x="1203" y="374" width="1" height="16" fill="#0caef0"/>
<rect x="1201" y="374" width="5" height="11" fill="#0caef0"/>
<rect x="1211" y="378" width="1" height="30" fill="#0caef0"/>
<rect x="1209" y="384" width="5" height="11" fill="#0caef0"/>
<rect x="1219" y="372" width="1" height="30" fill="#000"/>
<rect x="1217" y="373" width="5" height="22" fill="#000"/>
<rect x="1227" y="366" width="1" height="17" fill="#0caef0"/>
<rect x="1225" y="373" width="5" height="9" fill="#0caef0"/>
<rect x="1235" y="370" width="1" height="16" fill="#000"/>
<rect x="1233" y="375" width="5" height="7" fill="#000"/>
<rect x="1243" y="358" width="1" height="18" fill="#000"/>
<rect x="1241" y="370" width="5" height="6" fill="#000"/>
<rect x="1251" y="358" width="1" height="19" fill="#0caef0"/>
<rect x="1249" y="369" width="5" height="5" fill="#0caef0"/>
<rect x="1259" y="341" width="1" height="40" fill="#000"/>
<rect x="1257" y="342" width="5" height="32" fill="#000"/>
<rect x="1267" y="334" width="1" height="23" fill="#0caef0"/>
<rect x="1265" y="341" width="5" height="11" fill="#0caef0"/>
<rect x="1275" y="347" width="1" height="11" fill="#0caef0"/>
<rect x="1273" y="352" width="5" height="3" fill="#0caef0"/>
<rect x="1283" y="337" width="1" height="18" fill="#000"/>
<rect x="1281" y="340" width="5" height="15" fill="#000"/>
<rect x="1291" y="339" width="1" height="11" fill="#0caef0"/>
<rect x="1289" y="341" width="5" height="4" fill="#0caef0"/>
<rect x="1299" y="331" width="1" height="18" fill="#000"/>
<rect x="1297" y="340" width="5" height="5" fill="#000"/>
<rect x="1307" y="320" width="1" height="31" fill="#0caef0"/>
<rect x="1305" y="340" width="5" height="4" fill="#0caef0"/>
<rect x="1315" y="299" width="1" height="47" fill="#000"/>
<rect x="1313" y="341" width="5" height="3" fill="#000"/>
<rect x="1323" y="337" width="1" height="12" fill="#0caef0"/>
<rect x="1321" y="341" width="5" height="5" fill="#0caef0"/>
<rect x="1331" y="339" width="1" height="9" fill="#000"/>
<rect x="1329" y="339" width="5" height="7" fill="#000"/>
<rect x="1339" y="335" width="1" height="9" fill="#000"/>
<rect x="1337" y="336" width="5" height="4" fill="#000"/>
<rect x="1347" y="325" width="1" height="21" fill="#000"/>
<rect x="1345" y="331" width="5" height="6" fill="#000"/>
<rect x="1355" y="328" width="1" height="21" fill="#0caef0"/>
<rect x="1353" y="331" width="5" height="17" fill="#0caef0"/>
<rect x="1363" y="321" width="1" height="32" fill="#000"/>
<rect x="1361" y="337" width="5" height="11" fill="#000"/>
<rect x="1371" y="332" width="1" height="8" fill="#000"/>
<rect x="1369" y="336" width="5" height="1" fill="#000"/>
<rect x="1379" y="326" width="1" height="16" fill="#000"/>
<rect x="1377" y="331" width="5" height="7" fill="#000"/>
<rect x="1387" y="323" width="1" height="20" fill="#0caef0"/>
<rect x="1385" y="331" width="5" height="4" fill="#0caef0"/>
<rect x="1395" y="328" width="1" height="7" fill="#000"/>
<rect x="1393" y="333" width="5" height="2" fill="#000"/>
<rect x="1403" y="329" width="1" height="20" fill="#0caef0"/>
<rect x="1401" y="332" width="5" height="16" fill="#0caef0"/>
<rect x="1411" y="338" width="1" height="11" fill="#000"/>
<rect x="1409" y="339" width="5" height="9" fill="#000"/>
<rect x="1419" y="331" width="1" height="13" fill="#000"/>
<rect x="1417" y="334" width="5" height="5" fill="#000"/>
<rect x="1427" y="332" width="1" height="11" fill="#0caef0"/>
<rect x="1425" y="334" width="5" height="7" fill="#0caef0"/>
<rect x="1435" y="325" width="1" height="17" fill="#000"/>
<rect x="1433" y="331" width="5" height="10" fill="#000"/>
<rect x="1443" y="328" width="1" height="7" fill="#000"/>
<rect x="1441" y="330" width="5" height="1" fill="#000"/>
<rect x="1451" y="317" width="1" height="15" fill="#000"/>
<rect x="1449" y="321" width="5" height="10" fill="#000"/>
<rect x="1459" y="313" width="1" height="12" fill="#000"/>
<rect x="1457" y="314" width="5" height="8" fill="#000"/>
<rect x="1467" y="313" width="1" height="35" fill="#0caef0"/>
<rect x="1465" y="314" width="5" height="30" fill="#0caef0"/>
<rect x="1475" y="339" width="1" height="43" fill="#0caef0"/>
<rect x="1473" y="343" width="5" height="35" fill="#0caef0"/>
<rect x="1483" y="370" width="1" height="14" fill="#000"/>
<rect x="1481" y="373" width="5" height="5" fill="#000"/>
</g>
</g>
<g shape-rendering="crispEdges" fill="#c0c0c0">
<rect x="2.0" y="460.5" width="3" height="58.7"/>
<rect x="10.0" y="460.5" width="3" height="59.5"/>
<rect x="18.0" y="460.5" width="3" height="58.3"/>
<rect x="26.0" y="460.5" width="3" height="58.7"/>
<rect x="34.0" y="460.5" width="3" height="56.5"/>
<rect x="42.0" y="460.5" width="3" height="53.6"/>
<rect x="50.0" y="460.5" width="3" height="53.1"/>
<rect x="58.0" y="460.5" width="3" height="52.5"/>
<rect x="66.0" y="460.5" width="3" height="53.1"/>
<rect x="74.0" y="460.5" width="3" height="52.5"/>
<rect x="82.0" y="460.5" width="3" height="50.3"/>
<rect x="90.0" y="460.5" width="3" height="48.3"/>
<rect x="98.0" y="460.5" width="3" height="45.3"/>
<rect x="106.0" y="460.5" width="3" height="44.5"/>
<rect x="114.0" y="460.5" width="3" height="47.0"/>
<rect x="122.0" y="460.5" width="3" height="49.5"/>
<rect x="130.0" y="460.5" width="3" height="54.5"/>
<rect x="138.0" y="460.5" width="3" height="57.5"/>
<rect x="146.0" y="460.5" width="3" height="57.5"/>
<rect x="154.0" y="460.5" width="3" height="57.5"/>
<rect x="162.0" y="460.5" width="3" height="57.8"/>
<rect x="170.0" y="460.5" width="3" height="56.5"/>
<rect x="178.0" y="460.5" width="3" height="54.5"/>
<rect x="186.0" y="460.5" width="3" height="52.8"/>
<rect x="194.0" y="460.5" width="3" height="47.8"/>
<rect x="202.0" y="460.5" width="3" height="43.6"/>
<rect x="210.0" y="460.5" width="3" height="41.1"/>
<rect x="218.0" y="460.5" width="3" height="38.6"/>
<rect x="226.0" y="460.5" width="3" height="34.8"/>
<rect x="234.0" y="460.5" width="3" height="31.1"/>
<rect x="242.0" y="460.5" width="3" height="27.4"/>
<rect x="250.0" y="460.5" width="3" height="27.4"/>
<rect x="258.0" y="460.5" width="3" height="25.2"/>
<rect x="266.0" y="460.5" width="3" height="23.2"/>
<rect x="274.0" y="460.5" width="3" height="21.4"/>
<rect x="282.0" y="460.5" width="3" height="20.2"/>
<rect x="290.0" y="460.5" width="3" height="19.4"/>
<rect x="298.0" y="460.5" width="3" height="23.6"/>
<rect x="306.0" y="460.5" width="3" height="24.9"/>
<rect x="314.0" y="460.5" width="3" height="26.9"/>
<rect x="322.0" y="460.5" width="3" height="29.9"/>
<rect x="330.0" y="460.5" width="3" height="31.1"/>
<rect x="338.0" y="460.5" width="3" height="29.9"/>
<rect x="346.0" y="460.5" width="3" height="29.1"/>
<rect x="354.0" y="460.5" width="3" height="28.6"/>
<rect x="362.0" y="460.5" width="3" height="27.7"/>
<rect x="370.0" y="460.5" width="3" height="26.1"/>
<rect x="378.0" y="460.5" width="3" height="24.1"/>
<rect x="386.0" y="460.5" width="3" height="20.2"/>
<rect x="394.0" y="460.5" width="3" height="16.9"/>
<rect x="402.0" y="460.5" width="3" height="14.4"/>
<rect x="410.0" y="460.5" width="3" height="12.4"/>
<rect x="418.0" y="460.5" width="3" height="6.0"/>
<rect x="426.0" y="460.5" width="3" height="0.7"/>
<rect x="434.0" y="458.1" width="3" height="2.4"/>
<rect x="442.0" y="460.5" width="3" height="0.7"/>
<rect x="450.0" y="460.5" width="3" height="1.3"/>
<rect x="458.0" y="460.5" width="3" height="1.0"/>
<rect x="466.0" y="460.5" width="3" height="0.7"/>
<rect x="474.0" y="460.3" width="3" height="0.7"/>
<rect x="482.0" y="460.5" width="3" height="0.7"/>
<rect x="490.0" y="460.5" width="3" height="1.3"/>
<rect x="498.0" y="460.5" width="3" height="0.7"/>
<rect x="506.0" y="456.5" width="3" height="4.0"/>
<rect x="514.0" y="453.9" width="3" height="6.6"/>
<rect x="522.0" y="453.1" width="3" height="7.4"/>
<rect x="530.0" y="452.3" width="3" height="8.2"/>
<rect x="538.0" y="452.3" width="3" height="8.2"/>
<rect x="546.0" y="453.9" width="3" height="6.6"/>
<rect x="554.0" y="458.1" width="3" height="2.4"/>
<rect x="562.0" y="459.0" width="3" height="1.5"/>
<rect x="570.0" y="457.8" width="3" height="2.7"/>
<rect x="578.0" y="456.8" width="3" height="3.7"/>
<rect x="586.0" y="455.6" width="3" height="4.9"/>
<rect x="594.0" y="456.8" width="3" height="3.7"/>
<rect x="602.0" y="453.1" width="3" height="7.4"/>
<rect x="610.0" y="450.1" width="3" height="10.4"/>
<rect x="618.0" y="447.3" width="3" height="13.2"/>
<rect x="626.0" y="447.3" width="3" height="13.2"/>
<rect x="634.0" y="448.9" width="3" height="11.6"/>
<rect x="642.0" y="446.4" width="3" height="14.1"/>
<rect x="650.0" y="446.1" width="3" height="14.4"/>
<rect x="658.0" y="453.9" width="3" height="6.6"/>
<rect x="666.0" y="459.0" width="3" height="1.5"/>
<rect x="674.0" y="458.6" width="3" height="1.9"/>
<rect x="682.0" y="453.9" width="3" height="6.6"/>
<rect x="690.0" y="445.1" width="3" height="15.4"/>
<rect x="698.0" y="438.1" width="3" height="22.4"/>
<rect x="706.0" y="432.2" width="3" height="28.3"/>
<rect x="714.0" y="429.2" width="3" height="31.3"/>
<rect x="722.0" y="426.0" width="3" height="34.5"/>
<rect x="730.0" y="427.2" width="3" height="33.3"/>
<rect x="738.0" y="428.9" width="3" height="31.6"/>
<rect x="746.0" y="431.0" width="3" height="29.5"/>
<rect x="754.0" y="432.7" width="3" height="27.8"/>
<rect x="762.0" y="434.2" width="3" height="26.3"/>
<rect x="770.0" y="435.6" width="3" height="24.9"/>
<rect x="778.0" y="436.1" width="3" height="24.4"/>
<rect x="786.0" y="436.1" width="3" height="24.4"/>
<rect x="794.0" y="435.2" width="3" height="25.3"/>
<rect x="802.0" y="434.7" width="3" height="25.8"/>
<rect x="810.0" y="433.1" width="3" height="27.4"/>
<rect x="818.0" y="430.0" width="3" height="30.5"/>
<rect x="826.0" y="438.1" width="3" height="22.4"/>
<rect x="834.0" y="450.6" width="3" height="9.9"/>
<rect x="842.0" y="458.1" width="3" height="2.4"/>
<rect x="850.0" y="460.5" width="3" height="6.0"/>
<rect x="858.0" y="460.5" width="3" height="11.0"/>
<rect x="866.0" y="460.5" width="3" height="14.4"/>
<rect x="874.0" y="460.5" width="3" height="20.2"/>
<rect x="882.0" y="460.5" width="3" height="26.9"/>
<rect x="890.0" y="460.5" width="3" height="30.2"/>
<rect x="898.0" y="460.5" width="3" height="33.6"/>
<rect x="906.0" y="460.5" width="3" height="35.3"/>
<rect x="914.0" y="460.5" width="3" height="33.1"/>
<rect x="922.0" y="460.5" width="3" height="30.2"/>
<rect x="930.0" y="460.5" width="3" height="25.2"/>
<rect x="938.0" y="460.5" width="3" height="21.1"/>
<rect x="946.0" y="460.5" width="3" height="18.0"/>
<rect x="954.0" y="460.5" width="3" height="15.2"/>
<rect x="962.0" y="460.5" width="3" height="14.4"/>
<rect x="970.0" y="460.5" width="3" height="13.0"/>
<rect x="978.0" y="460.5" width="3" height="11.0"/>
<rect x="986.0" y="460.5" width="3" height="10.2"/>
<rect x="994.0" y="460.5" width="3" height="8.2"/>
<rect x="1002.0" y="460.5" width="3" height="6.0"/>
<rect x="1010.0" y="460.5" width="3" height="6.0"/>
<rect x="1018.0" y="460.5" width="3" height="4.3"/>
<rect x="1026.0" y="460.5" width="3" height="1.3"/>
<rect x="1034.0" y="460.5" width="3" height="8.5"/>
<rect x="1042.0" y="460.5" width="3" height="16.0"/>
<rect x="1050.0" y="460.5" width="3" height="21.9"/>
<rect x="1058.0" y="460.5" width="3" height="26.9"/>
<rect x="1066.0" y="460.5" width="3" height="35.3"/>
<rect x="1074.0" y="460.5" width="3" height="43.1"/>
<rect x="1082.0" y="460.5" width="3" height="49.1"/>
<rect x="1090.0" y="460.5" width="3" height="52.5"/>
<rect x="1098.0" y="460.5" width="3" height="53.1"/>
<rect x="1106.0" y="460.5" width="3" height="51.1"/>
<rect x="1114.0" y="460.5" width="3" height="50.0"/>
<rect x="1122.0" y="460.5" width="3" height="48.6"/>
<rect x="1130.0" y="460.5" width="3" height="47.0"/>
<rect x="1138.0" y="460.5" width="3" height="45.3"/>
<rect x="1146.0" y="460.5" width="3" height="42.4"/>
<rect x="1154.0" y="460.5" width="3" height="40.6"/>
<rect x="1162.0" y="460.5" width="3" height="40.3"/>
<rect x="1170.0" y="460.5" width="3" height="38.6"/>
<rect x="1178.0" y="460.5" width="3" height="39.4"/>
<rect x="1186.0" y="460.5" width="3" height="39.8"/>
<rect x="1194.0" y="460.5" width="3" height="40.6"/>
<rect x="1202.0" y="460.5" width="3" height="39.8"/>
<rect x="1210.0" y="460.5" width="3" height="41.9"/>
<rect x="1218.0" y="460.5" width="3" height="39.8"/>
<rect x="1226.0" y="460.5" width="3" height="38.9"/>
<rect x="1234.0" y="460.5" width="3" height="36.9"/>
<rect x="1242.0" y="460.5" width="3" height="35.3"/>
<rect x="1250.0" y="460.5" width="3" height="35.8"/>
<rect x="1258.0" y="460.5" width="3" height="28.6"/>
<rect x="1266.0" y="460.5" width="3" height="25.2"/>
<rect x="1274.0" y="460.5" width="3" height="22.4"/>
<rect x="1282.0" y="460.5" width="3" height="18.5"/>
<rect x="1290.0" y="460.5" width="3" height="16.4"/>
<rect x="1298.0" y="460.5" width="3" height="13.5"/>
<rect x="1306.0" y="460.5" width="3" height="11.4"/>
<rect x="1314.0" y="460.5" width="3" height="9.7"/>
<rect x="1322.0" y="460.5" width="3" height="8.2"/>
<rect x="1330.0" y="460.5" width="3" height="6.5"/>
<rect x="1338.0" y="460.5" width="3" height="5.5"/>
<rect x="1346.0" y="460.5" width="3" height="3.5"/>
<rect x="1354.0" y="460.5" width="3" height="3.0"/>
<rect x="1362.0" y="460.5" width="3" height="2.6"/>
<rect x="1370.0" y="460.5" width="3" height="1.8"/>
<rect x="1378.0" y="460.5" width="3" height="1.0"/>
<rect x="1386.0" y="460.5" width="3" height="0.7"/>
<rect x="1394.0" y="459.5" width="3" height="1.0"/>
<rect x="1402.0" y="458.1" width="3" height="2.4"/>
<rect x="1410.0" y="459.5" width="3" height="1.0"/>
<rect x="1418.0" y="459.5" width="3" height="1.0"/>
<rect x="1426.0" y="459.0" width="3" height="1.5"/>
<rect x="1434.0" y="458.6" width="3" height="1.9"/>
<rect x="1442.0" y="458.1" width="3" height="2.4"/>
<rect x="1450.0" y="456.1" width="3" height="4.4"/>
<rect x="1458.0" y="453.9" width="3" height="6.6"/>
<rect x="1466.0" y="456.1" width="3" height="4.4"/>
<rect x="1474.0" y="460.5" width="3" height="1.3"/>
<rect x="1482.0" y="460.5" width="3" height="4.3"/>
</g>
<path d="M3.5 518.9L11.5 520.4L19.5 521.3L27.5 521.3L35.5 520.3L43.5 519.1L51.5 518.3L59.5 517.0L67.5 516.3L75.5 515.0L83.5 513.8L91.5 512.5L99.5 511.1L107.5 509.9L115.5 509.1L123.5 509.1L131.5 509.2L139.5 510.3L147.5 510.3L155.5 510.8L163.5 512.5L171.5 513.7L179.5 514.7L187.5 515.3L195.5 514.5L203.5 513.6L211.5 512.4L219.5 509.9L227.5 507.4L235.5 504.5L243.5 501.5L251.5 498.5L259.5 495.6L267.5 492.8L275.5 490.1L283.5 487.1L291.5 485.2L299.5 484.0L307.5 482.9L315.5 482.9L323.5 484.6L331.5 484.6L339.5 484.9L347.5 486.6L355.5 486.9L363.5 488.6L371.5 488.6L379.5 488.5L387.5 487.4L395.5 486.0L403.5 484.3L411.5 482.3L419.5 480.6L427.5 476.4L435.5 472.8L443.5 470.6L451.5 467.8L459.5 465.9L467.5 464.3L475.5 463.1L483.5 461.1L491.5 461.1L499.5 461.1L507.5 460.3L515.5 460.3L523.5 458.9L531.5 458.1L539.5 457.3L547.5 456.5L555.5 456.5L563.5 455.1L571.5 455.1L579.5 455.1L587.5 455.2L595.5 456.8L603.5 456.8L611.5 456.4L619.5 455.6L627.5 454.4L635.5 452.7L643.5 451.1L651.5 450.3L659.5 450.3L667.5 450.3L675.5 451.4L683.5 451.4L691.5 451.4L699.5 450.1L707.5 448.1L715.5 446.1L723.5 444.3L731.5 441.3L739.5 438.3L747.5 435.1L755.5 432.2L763.5 431.0L771.5 431.0L779.5 431.1L787.5 432.2L795.5 433.4L803.5 434.4L811.5 434.4L819.5 434.4L827.5 435.3L835.5 436.5L843.5 439.4L851.5 442.9L859.5 446.6L867.5 450.3L875.5 456.3L883.5 462.0L891.5 468.9L899.5 474.9L907.5 479.5L915.5 483.3L923.5 486.3L931.5 487.4L939.5 488.6L947.5 488.5L955.5 487.3L963.5 485.3L971.5 483.5L979.5 480.6L987.5 478.5L995.5 475.6L1003.5 473.4L1011.5 471.5L1019.5 470.1L1027.5 468.2L1035.5 468.2L1043.5 468.2L1051.5 469.1L1059.5 471.3L1067.5 474.1L1075.5 478.0L1083.5 483.3L1091.5 488.4L1099.5 494.8L1107.5 499.7L1115.5 503.4L1123.5 506.3L1131.5 508.7L1139.5 509.6L1147.5 509.6L1155.5 508.2L1163.5 506.3L1171.5 504.9L1179.5 503.3L1187.5 502.1L1195.5 501.1L1203.5 500.3L1211.5 500.3L1219.5 500.3L1227.5 500.2L1235.5 499.4L1243.5 499.1L1251.5 498.2L1259.5 496.9L1267.5 496.1L1275.5 494.4L1283.5 491.0L1291.5 487.8L1299.5 484.8L1307.5 482.0L1315.5 479.8L1323.5 476.8L1331.5 474.3L1339.5 472.3L1347.5 470.6L1355.5 468.6L1363.5 467.3L1371.5 465.6L1379.5 464.4L1387.5 463.1L1395.5 462.3L1403.5 461.1L1411.5 460.6L1419.5 460.1L1427.5 459.8L1435.5 459.0L1443.5 459.0L1451.5 458.6L1459.5 458.1L1467.5 458.1L1475.5 458.1L1483.5 458.1" stroke="#b8242a" stroke-width="1.2" fill="none" stroke-linejoin="round" />
<path d="M3 586.5H1661" stroke="#4f9be0" stroke-width="1" shape-rendering="crispEdges"/>
<path d="M3 609.5H1661" stroke="#4f9be0" stroke-width="1" shape-rendering="crispEdges"/>
<path d="M3 563.5H1661" stroke="#00008b" stroke-width="1" stroke-dasharray="3 3" shape-rendering="crispEdges"/>
<path d="M3 586.5H1661" stroke="#00008b" stroke-width="1" stroke-dasharray="3 3" shape-rendering="crispEdges"/>
<path d="M3 609.5H1661" stroke="#00008b" stroke-width="1" stroke-dasharray="3 3" shape-rendering="crispEdges"/>
<path d="M3.5 596.5L11.5 603.2L19.5 604.4L27.5 604.4L35.5 601.4L43.5 599.0L51.5 603.2L59.5 604.4L67.5 606.6L75.5 606.6L83.5 602.4L91.5 603.5L99.5 597.7L107.5 602.7L115.5 609.1L123.5 610.2L131.5 613.2L139.5 614.4L147.5 610.2L155.5 607.2L163.5 610.2L171.5 608.6L179.5 604.4L187.5 605.2L195.5 597.2L203.5 595.2L211.5 600.2L219.5 596.9L227.5 593.5L235.5 594.4L243.5 590.2L251.5 597.2L259.5 593.5L267.5 593.5L275.5 593.5L283.5 592.3L291.5 595.5L299.5 606.6L307.5 605.2L315.5 606.4L323.5 609.1L331.5 605.2L339.5 598.2L347.5 599.4L355.5 601.5L363.5 601.5L371.5 600.2L379.5 595.5L387.5 586.0L395.5 584.3L403.5 587.2L411.5 587.2L419.5 573.4L427.5 572.1L435.5 575.1L443.5 594.0L451.5 590.2L459.5 584.6L467.5 584.3L475.5 586.0L483.5 588.5L491.5 593.5L499.5 581.0L507.5 576.5L515.5 576.5L523.5 581.0L531.5 580.1L539.5 582.3L547.5 590.2L555.5 592.3L563.5 590.2L571.5 584.8L579.5 581.0L587.5 582.3L595.5 583.5L603.5 574.3L611.5 572.3L619.5 570.1L627.5 581.0L635.5 584.6L643.5 576.0L651.5 579.6L659.5 598.5L667.5 597.4L675.5 584.3L683.5 577.6L691.5 568.4L699.5 569.6L707.5 569.3L715.5 571.4L723.5 569.3L731.5 576.0L739.5 580.5L747.5 579.3L755.5 579.3L763.5 579.3L771.5 579.3L779.5 576.5L787.5 574.8L795.5 572.9L803.5 571.3L811.5 569.3L819.5 565.1L827.5 593.2L835.5 601.5L843.5 600.2L851.5 602.7L859.5 597.7L867.5 596.5L875.5 601.9L883.5 606.4L891.5 602.4L899.5 602.4L907.5 601.4L915.5 594.9L923.5 591.5L931.5 585.1L939.5 586.0L947.5 587.2L955.5 586.8L963.5 590.7L971.5 588.5L979.5 588.5L987.5 588.5L995.5 586.0L1003.5 583.1L1011.5 588.2L1019.5 584.3L1027.5 581.0L1035.5 603.2L1043.5 606.4L1051.5 607.4L1059.5 608.2L1067.5 614.4L1075.5 616.6L1083.5 616.6L1091.5 615.2L1099.5 611.6L1107.5 602.4L1115.5 605.2L1123.5 605.0L1131.5 605.2L1139.5 599.9L1147.5 598.2L1155.5 601.9L1163.5 605.5L1171.5 600.5L1179.5 607.4L1187.5 604.0L1195.5 606.0L1203.5 608.2L1211.5 610.6L1219.5 601.4L1227.5 603.2L1235.5 600.2L1243.5 598.5L1251.5 599.0L1259.5 587.3L1267.5 590.2L1275.5 591.3L1283.5 586.5L1291.5 587.3L1299.5 586.0L1307.5 587.3L1315.5 586.5L1323.5 588.5L1331.5 585.1L1339.5 583.0L1347.5 581.0L1355.5 589.3L1363.5 584.6L1371.5 584.3L1379.5 581.0L1387.5 583.1L1395.5 582.3L1403.5 590.2L1411.5 586.0L1419.5 583.1L1427.5 587.3L1435.5 582.6L1443.5 581.0L1451.5 577.6L1459.5 574.3L1467.5 589.3L1475.5 602.7L1483.5 600.5" stroke="#2d84d2" stroke-width="1" fill="none" stroke-linejoin="round" />
<g fill="#000" shape-rendering="crispEdges">
<rect x="2" y="2" width="1" height="646"/>
<rect x="1661" y="2" width="1" height="642"/>
<rect x="2" y="2" width="1660" height="1"/>
<rect x="2" y="418" width="1660" height="1"/>
<rect x="2" y="420" width="1660" height="1"/>
<rect x="2" y="526" width="1660" height="1"/>
<rect x="2" y="528" width="1660" height="1"/>
<rect x="2" y="643" width="1660" height="1"/>
<rect x="3" y="644" width="1" height="3"/>
<rect x="67" y="644" width="1" height="3"/>
<rect x="131" y="644" width="1" height="3"/>
<rect x="195" y="644" width="1" height="3"/>
<rect x="259" y="644" width="1" height="3"/>
<rect x="323" y="644" width="1" height="3"/>
<rect x="387" y="644" width="1" height="3"/>
<rect x="451" y="644" width="1" height="3"/>
<rect x="515" y="644" width="1" height="3"/>
<rect x="579" y="644" width="1" height="3"/>
<rect x="643" y="644" width="1" height="3"/>
<rect x="707" y="644" width="1" height="3"/>
<rect x="771" y="644" width="1" height="3"/>
<rect x="835" y="644" width="1" height="3"/>
<rect x="899" y="644" width="1" height="3"/>
<rect x="963" y="644" width="1" height="3"/>
<rect x="1027" y="644" width="1" height="3"/>
<rect x="1091" y="644" width="1" height="3"/>
<rect x="1155" y="644" width="1" height="3"/>
<rect x="1219" y="644" width="1" height="3"/>
<rect x="1283" y="644" width="1" height="3"/>
<rect x="1347" y="644" width="1" height="3"/>
<rect x="1411" y="644" width="1" height="3"/>
<rect x="1475" y="644" width="1" height="3"/>
<rect x="1662" y="19" width="2" height="1"/>
<rect x="1662" y="52" width="2" height="1"/>
<rect x="1662" y="85" width="2" height="1"/>
<rect x="1662" y="118" width="2" height="1"/>
<rect x="1662" y="151" width="2" height="1"/>
<rect x="1662" y="184" width="2" height="1"/>
<rect x="1662" y="217" width="2" height="1"/>
<rect x="1662" y="250" width="2" height="1"/>
<rect x="1662" y="283" width="2" height="1"/>
<rect x="1662" y="316" width="2" height="1"/>
<rect x="1662" y="349" width="2" height="1"/>
<rect x="1662" y="382" width="2" height="1"/>
<rect x="1662" y="415" width="2" height="1"/>
<rect x="1662" y="421" width="2" height="1"/>
<rect x="1662" y="460" width="2" height="1"/>
<rect x="1662" y="525" width="2" height="1"/>
<rect x="1662" y="535" width="2" height="1"/>
<rect x="1662" y="563" width="2" height="1"/>
<rect x="1662" y="586" width="2" height="1"/>
<rect x="1662" y="609" width="2" height="1"/>
<rect x="1662" y="636" width="2" height="1"/>
</g>
<path d="M6.5 9.5h7l-3.5 4z" fill="#000"/>
<text x="18.5" y="13.8" textLength="53.6" lengthAdjust="spacingAndGlyphs">EURUSD,H4</text>
<text x="78.8" y="13.8" textLength="31.8" lengthAdjust="spacingAndGlyphs">1.03910</text>
<text x="114.6" y="13.8" textLength="31.8" lengthAdjust="spacingAndGlyphs">1.04010</text>
<text x="150.7" y="13.8" textLength="31.8" lengthAdjust="spacingAndGlyphs">1.03827</text>
<text x="187" y="13.8" textLength="31.8" lengthAdjust="spacingAndGlyphs">1.03964</text>
<text x="7.5" y="433" textLength="150.5" lengthAdjust="spacingAndGlyphs">MACD(12,26,9) -0.000473 0.000135</text>
<text x="7.5" y="540.5" textLength="67" lengthAdjust="spacingAndGlyphs">RSI(14) 37.8073</text>
<text x="1667.8" y="220.9" textLength="32" lengthAdjust="spacingAndGlyphs">1.06080</text>
<text x="1667.8" y="319.9" textLength="32" lengthAdjust="spacingAndGlyphs">1.04730</text>
<text x="1667.8" y="352.9" textLength="32" lengthAdjust="spacingAndGlyphs">1.04290</text>
<text x="1667.8" y="55.9" textLength="32" lengthAdjust="spacingAndGlyphs">1.08310</text>
<text x="1667.8" y="88.9" textLength="32" lengthAdjust="spacingAndGlyphs">1.07860</text>
<text x="1667.8" y="121.9" textLength="32" lengthAdjust="spacingAndGlyphs">1.07420</text>
<text x="1667.8" y="154.9" textLength="32" lengthAdjust="spacingAndGlyphs">1.06970</text>
<text x="1667.8" y="187.9" textLength="32" lengthAdjust="spacingAndGlyphs">1.06520</text>
<text x="1667.8" y="253.9" textLength="32" lengthAdjust="spacingAndGlyphs">1.05630</text>
<text x="1667.8" y="286.9" textLength="32" lengthAdjust="spacingAndGlyphs">1.05180</text>
<text x="1667.8" y="385.9" textLength="32" lengthAdjust="spacingAndGlyphs">1.03840</text>
<text x="1667.8" y="418.9" textLength="32" lengthAdjust="spacingAndGlyphs">1.03390</text>
<text x="1665.3" y="431" textLength="37.2" lengthAdjust="spacingAndGlyphs">0.004047</text>
<text x="1665.3" y="464" textLength="17.3" lengthAdjust="spacingAndGlyphs">0.00</text>
<text x="1665.3" y="523.5" textLength="40" lengthAdjust="spacingAndGlyphs">-0.006984</text>
<text x="1665.3" y="538.6" textLength="14.6" lengthAdjust="spacingAndGlyphs">100</text>
<text x="1665.3" y="566.4" textLength="9.4" lengthAdjust="spacingAndGlyphs">70</text>
<text x="1665.3" y="589.4" textLength="9.4" lengthAdjust="spacingAndGlyphs">50</text>
<text x="1665.3" y="612.2" textLength="9.4" lengthAdjust="spacingAndGlyphs">30</text>
<text x="1665.3" y="639.4" textLength="4.4" lengthAdjust="spacingAndGlyphs">0</text>
<rect x="1663" y="368" width="41" height="11" fill="#000"/>
<rect x="1663" y="16" width="41" height="11" fill="#1e90ff" shape-rendering="crispEdges"/>
<text x="1667.8" y="24.9" style="fill:#fff;stroke:#fff" textLength="32" lengthAdjust="spacingAndGlyphs">1.08713</text>
<rect x="1663" y="120" width="41" height="11" fill="#1e90ff" shape-rendering="crispEdges"/>
<text x="1667.8" y="128.9" style="fill:#fff;stroke:#fff" textLength="32" lengthAdjust="spacingAndGlyphs">1.07312</text>
<rect x="1663" y="166" width="41" height="11" fill="#1e90ff" shape-rendering="crispEdges"/>
<text x="1667.8" y="174.9" style="fill:#fff;stroke:#fff" textLength="32" lengthAdjust="spacingAndGlyphs">1.06682</text>
<rect x="1663" y="209" width="41" height="11" fill="#1e90ff" shape-rendering="crispEdges"/>
<text x="1667.8" y="217.9" style="fill:#fff;stroke:#fff" textLength="32" lengthAdjust="spacingAndGlyphs">1.06102</text>
<rect x="1663" y="293" width="41" height="11" fill="#1e90ff" shape-rendering="crispEdges"/>
<text x="1667.8" y="301.9" style="fill:#fff;stroke:#fff" textLength="32" lengthAdjust="spacingAndGlyphs">1.04971</text>
<rect x="1663" y="307" width="41" height="11" fill="#1e90ff" shape-rendering="crispEdges"/>
<text x="1667.8" y="315.9" style="fill:#fff;stroke:#fff" textLength="32" lengthAdjust="spacingAndGlyphs">1.04771</text>
<rect x="1663" y="346" width="41" height="11" fill="#1e90ff" shape-rendering="crispEdges"/>
<text x="1667.8" y="354.9" style="fill:#fff;stroke:#fff" textLength="32" lengthAdjust="spacingAndGlyphs">1.04242</text>
<rect x="1663" y="365" width="41" height="11" fill="#1e90ff" shape-rendering="crispEdges"/>
<text x="1667.8" y="373.9" style="fill:#fff;stroke:#fff" textLength="32" lengthAdjust="spacingAndGlyphs">1.03989</text>
<rect x="1663" y="402" width="41" height="11" fill="#1e90ff" shape-rendering="crispEdges"/>
<text x="1667.8" y="410.9" style="fill:#fff;stroke:#fff" textLength="32" lengthAdjust="spacingAndGlyphs">1.03486</text>
<text x="2.7" y="655.8" textLength="51.5" lengthAdjust="spacingAndGlyphs">15 Nov 2016</text>
<text x="66.7" y="655.8" textLength="54.5" lengthAdjust="spacingAndGlyphs">16 Nov 16:00</text>
<text x="130.7" y="655.8" textLength="54.5" lengthAdjust="spacingAndGlyphs">18 Nov 00:00</text>
<text x="194.7" y="655.8" textLength="54.5" lengthAdjust="spacingAndGlyphs">21 Nov 08:00</text>
<text x="258.7" y="655.8" textLength="54.5" lengthAdjust="spacingAndGlyphs">22 Nov 16:00</text>
<text x="322.7" y="655.8" textLength="54.5" lengthAdjust="spacingAndGlyphs">24 Nov 00:00</text>
<text x="386.7" y="655.8" textLength="54.5" lengthAdjust="spacingAndGlyphs">25 Nov 08:00</text>
<text x="450.7" y="655.8" textLength="54.5" lengthAdjust="spacingAndGlyphs">28 Nov 16:00</text>
<text x="514.7" y="655.8" textLength="54.5" lengthAdjust="spacingAndGlyphs">30 Nov 00:00</text>
<text x="578.7" y="655.8" textLength="49.7" lengthAdjust="spacingAndGlyphs">1 Dec 08:00</text>
<text x="642.7" y="655.8" textLength="49.7" lengthAdjust="spacingAndGlyphs">2 Dec 16:00</text>
<text x="706.7" y="655.8" textLength="49.7" lengthAdjust="spacingAndGlyphs">6 Dec 00:00</text>
<text x="770.7" y="655.8" textLength="49.7" lengthAdjust="spacingAndGlyphs">7 Dec 08:00</text>
<text x="834.7" y="655.8" textLength="49.7" lengthAdjust="spacingAndGlyphs">8 Dec 16:00</text>
<text x="898.7" y="655.8" textLength="54.5" lengthAdjust="spacingAndGlyphs">12 Dec 00:00</text>
<text x="962.7" y="655.8" textLength="54.5" lengthAdjust="spacingAndGlyphs">13 Dec 08:00</text>
<text x="1026.7" y="655.8" textLength="54.5" lengthAdjust="spacingAndGlyphs">14 Dec 16:00</text>
<text x="1090.7" y="655.8" textLength="54.5" lengthAdjust="spacingAndGlyphs">16 Dec 00:00</text>
<text x="1154.7" y="655.8" textLength="54.5" lengthAdjust="spacingAndGlyphs">19 Dec 08:00</text>
<text x="1218.7" y="655.8" textLength="54.5" lengthAdjust="spacingAndGlyphs">20 Dec 16:00</text>
<text x="1282.7" y="655.8" textLength="54.5" lengthAdjust="spacingAndGlyphs">22 Dec 00:00</text>
<text x="1346.7" y="655.8" textLength="54.5" lengthAdjust="spacingAndGlyphs">23 Dec 08:00</text>
<text x="1410.7" y="655.8" textLength="54.5" lengthAdjust="spacingAndGlyphs">27 Dec 04:00</text>
<text x="1474.7" y="655.8" textLength="54.5" lengthAdjust="spacingAndGlyphs">28 Dec 12:00</text>
<ellipse cx="1416.5" cy="54.8" rx="33.4" ry="29.8" fill="#2e86cd"/>
<g fill="#fff">
<path d="M1396.1 46.9H1409.6V51.6H1401.4V56.4H1408.6V60.6H1401.4V81.8H1396.1Z"/>
<path d="M1412.3 51.6H1417.7L1429.8 68H1424.4Z"/>
<path d="M1412.2 68H1417.4L1435.2 42.9L1437.4 44.5L1438.8 35.4L1430 39.1L1432.2 40.7Z"/>
</g>
<g style="font-size:34.5px;font-weight:bold;fill:#2e86cd">
<text transform="translate(1454.94 68.4) scale(0.948 1)" x="0" y="0" style="font-size:34.5px;font-weight:bold;fill:#2e86cd;stroke:#2e86cd;stroke-width:0.7px;stroke-linejoin:round">F</text>
<text transform="translate(1475.84 68.4) scale(1.123 1)" x="0" y="0" style="font-size:34.5px;font-weight:bold;fill:#2e86cd;stroke:#2e86cd;stroke-width:0.7px;stroke-linejoin:round">o</text>
<text transform="translate(1499.62 68.4) scale(1.196 1)" x="0" y="0" style="font-size:34.5px;font-weight:bold;fill:#2e86cd;stroke:#2e86cd;stroke-width:0.7px;stroke-linejoin:round">r</text>
<text transform="translate(1518.94 68.4) scale(1.310 1)" x="0" y="0" style="font-size:34.5px;font-weight:bold;fill:#2e86cd;stroke:#2e86cd;stroke-width:0.7px;stroke-linejoin:round">e</text>
<text transform="translate(1543.60 68.4) scale(1.123 1)" x="0" y="0" style="font-size:34.5px;font-weight:bold;fill:#2e86cd;stroke:#2e86cd;stroke-width:0.7px;stroke-linejoin:round">x</text>
<text transform="translate(1563.61 68.4) scale(1.253 1)" x="0" y="0" style="font-size:34.5px;font-weight:bold;fill:#2e86cd;stroke:#2e86cd;stroke-width:0.7px;stroke-linejoin:round">M</text>
<text transform="translate(1601.83 68.4) scale(1.123 1)" x="0" y="0" style="font-size:34.5px;font-weight:bold;fill:#2e86cd;stroke:#2e86cd;stroke-width:0.7px;stroke-linejoin:round">a</text>
<text transform="translate(1625.83 68.4) scale(1.196 1)" x="0" y="0" style="font-size:34.5px;font-weight:bold;fill:#2e86cd;stroke:#2e86cd;stroke-width:0.7px;stroke-linejoin:round">r</text>
<text transform="translate(1644.87 68.4) scale(1.250 1)" x="0" y="0" style="font-size:34.5px;font-weight:bold;fill:#2e86cd;stroke:#2e86cd;stroke-width:0.7px;stroke-linejoin:round">t</text>
</g>
<path d="M1544.2 68.4L1549.8 68.4L1571 41.7L1574.3 43.8L1575 30.7L1564.3 36.9L1567.6 39Z" fill="#2e86cd" stroke="#2e86cd" stroke-width="0.9" stroke-linejoin="round"/>
</svg></body></html>
